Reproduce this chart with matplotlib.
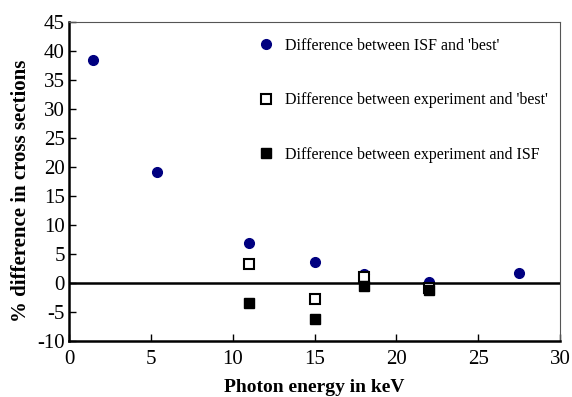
import matplotlib
matplotlib.use("Agg")
import matplotlib.pyplot as plt

# Photon energies (keV) and percentage differences in cross sections
isf_best_energy = [1.45, 5.4, 11.0, 15.0, 18.0, 22.0, 27.5]
isf_best_diff = [38.4, 19.1, 6.9, 3.6, 1.6, 0.1, 1.7]

exp_best_energy = [11.0, 15.0, 18.0, 22.0]
exp_best_diff = [3.2, -2.8, 1.1, -0.9]

exp_isf_energy = [11.0, 15.0, 18.0, 22.0]
exp_isf_diff = [-3.5, -6.2, -0.6, -1.2]

labels = ["Difference between ISF and 'best'",
          "Difference between experiment and 'best'",
          "Difference between experiment and ISF"]

plt.rcParams['font.family'] = ['Liberation Serif', 'DejaVu Serif']
plt.rcParams['axes.unicode_minus'] = False

fig = plt.figure(figsize=(5.72, 3.97), dpi=100)
ax = fig.add_axes([69/572, 1-341/397, (560-69)/572, (341-22)/397])

ax.axhline(0, color='black', lw=1.8, zorder=1)

ax.plot(isf_best_energy, isf_best_diff, 'o', ls='none', color='#000080',
        ms=7, label=labels[0], zorder=2)
ax.plot(exp_best_energy, exp_best_diff, 's', ls='none', mfc='white',
        mec='black', mew=1.5, ms=7.2, label=labels[1], zorder=3)
ax.plot(exp_isf_energy, exp_isf_diff, 's', ls='none', color='black',
        ms=7.2, label=labels[2], zorder=4)

ax.set_xlim(0, 30)
ax.set_ylim(-10, 45)
ax.set_xticks(range(0, 31, 5))
ax.set_yticks(range(-10, 46, 5))
ax.tick_params(direction='in', length=5, width=1, labelsize=15,
               colors='black')
ax.tick_params(axis='x', pad=6.5)
ax.tick_params(axis='y', pad=3)

for side in ('left', 'bottom'):
    ax.spines[side].set_linewidth(1.8)
for side in ('top', 'right'):
    ax.spines[side].set_linewidth(0.8)
    ax.spines[side].set_color('#555555')

ax.set_xlabel('Photon energy in keV', fontsize=14, fontweight='bold', labelpad=7)
ax.set_ylabel('% difference in cross sections', fontsize=15, fontweight='bold')
ax.yaxis.set_label_coords(-38/491, 1-(190.5-22)/319)

ax.legend(loc='upper left', bbox_to_anchor=(0.372, 0.97), frameon=False,
          fontsize=11.5, labelspacing=2.4, handletextpad=0.66,
          handlelength=1.0, borderaxespad=0)

fig.savefig('out.png', dpi=100)
